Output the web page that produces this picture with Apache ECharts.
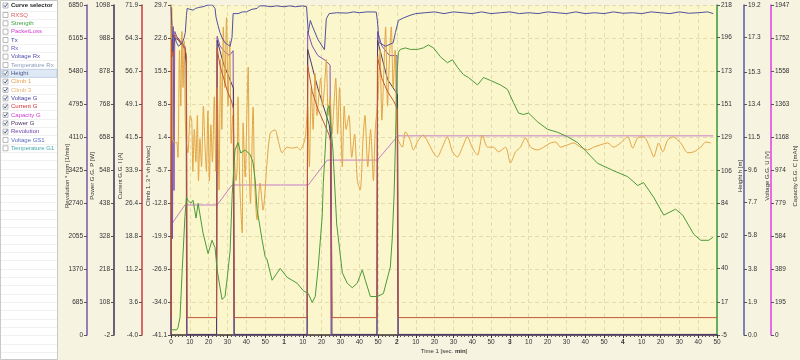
<!DOCTYPE html>
<html><head><meta charset="utf-8">
<script src="https://cdn.jsdelivr.net/npm/echarts@6/dist/echarts.min.js"></script>
<style>html,body{margin:0;padding:0;background:#f6f3e1;}#c{width:800px;height:360px;}</style>
</head><body><div id="c"></div>
<script>
// ---------- tick labels ----------
const revTicks = ['0','685','1370','2055','2740','3425','4110','4795','5480','6165','6850'];
const powTicks = ['-2','108','218','328','438','548','658','768','878','988','1098'];
const curTicks = ['-4.0','3.6','11.2','18.8','26.4','33.9','41.5','49.1','56.7','64.3','71.9'];
const climbTicks = ['-41.1','-34.0','-26.9','-19.9','-12.8','-5.7','1.4','8.5','15.5','22.6','29.7'];
const heightTicks = ['-5','17','40','62','84','106','129','151','173','196','218'];
const voltTicks = ['0.0','1.9','3.8','5.8','7.7','9.6','11.5','13.4','15.3','17.3','19.2'];
const capTicks = ['0','195','389','584','779','974','1168','1363','1558','1752','1947'];

// ---------- selector ----------
const selNames = ['RXSQ','Strength','PacketLoss','Tx','Rx','Voltage Rx','Temperature Rx','Height','Climb 1','Climb 3','Voltage G','Current G','Capacity G','Power G','Revolution','Voltage GS1','Temperature G1'];
const selColors = ['#e06060','#3fa03f','#d040d0','#404090','#5a5ac8','#5050b0','#8a98b8','#4a5a8a','#e8a050','#e8b070','#4646a6','#d03030','#d040d0','#503060','#6a40a8','#5a6ac0','#40a8a8'];
const selChecked = [0,0,0,0,0,0,0,1,1,1,1,1,1,1,1,0,0];

// ---------- series data (time in seconds) ----------
const heightT = [0,3,3.7,4.8,6,7.4,8.2,9,10.5,11.7,13.3,14.4,17,19.7,21.8,23.4,24.5,27.1,28.7,30,31.4,32.5,34,35.6,37,39.4,42,43.5,44.7,45.7,47,48.4,50,51,53.7,56.4,58,61.7,67,70.2,72.9,75,76.6,78.2,80.3,80.9,81.9,83,84,86,88,91,93.6,96.3,98.9,101.6,103.2,105.9,109.6,112.8,116.5,117.5,118.5,119.3,120,120.8,121.8,124.5,127.1,130.9,134,136.7,139.4,143.1,146.8,149.5,152.1,155.3,158,162.8,166,169.7,175,178.7,181.9,184.6,187.2,189.9,194.7,200,205.3,210.6,216,221.3,226.6,235.1,242.6,247.9,251,256.4,261.7,268,271.8,277.7,281.4,285.6,287.8];
const heightV = [-1.5,-1.5,0,7,40,75,88,86,84,86,74,84,64,50,59,54,39,19,21,35,52,90,120,125,118,120,117,112,100,80,70,59,48,46,32,37,40,34,30,25,23,17,21,41,75,98,120,147,150,120,70,37,30,27,30,39,32,21,21,23,41,60,90,130,170,186,188,189,188,188,189,191,189,183,179,181,176,171,169,164,169,167,164,161,152,145,144,145,139,134,132,129,125,118,111,106,102,96,98,88,76,80,76,63,59,59,61];

const climbT = [0,0.4,0.8,2,3,3.7,4.5,5.2,5.8,6.4,7,7.6,8.2,9,10.2,11,11.6,12.4,13.2,14,14.6,15.4,16.2,17.2,18,18.8,19.6,20.4,21.2,22,23,23.8,24.6,25.5,26.3,27,27.8,28.6,29.5,30.3,31.2,32,32.8,33.6,34.5,35.1,35.6,36.2,36.7,37.8,38.3,39.4,40.4,41,41.5,42.2,43.6,44.4,45.7,47.3,48.9,51,52.7,55.3,56.9,59,61.7,64.4,67,68.6,71.3,72.5,73.5,74.5,75.5,76.5,77.5,78.5,79.5,80.5,81.5,82.5,83.5,84.5,85.5,86.5,87.5,88.5,89.5,91,92,93,94.5,96,97.5,99,100.5,102,103,104.5,106,107.5,108.5,110,111,112,113,114,115,116,117,118,119,120.2,122.9,124.5,127.1,128.7,131.4,134,136.7,139.4,141.5,144.1,146.8,149.5,152.1,154.8,157.4,160.1,162.8,165.4,168.1,171.3,173.9,177.7,180.3,183,185.6,188.3,191,194.7,197.9,201.6,204.3,206.9,210.6,213.8,217.6,221.3,224.5,228.2,231.9,235.1,238.8,242.6,245.2,247.9,251.1,254.8,256.4,259,261.2,263.8,266.5,270.7,274.5,277.7,281.4,284,286.7];
const climbV = [0.1,29,1,0.1,0.3,-3,20,8,24,12,22,5,0.1,-2,6,5,-6,3,-4,6,-8,1,-5,8,0,-6,7,-8,4,-4,10,-6,12,-10,18,3,25,12,27,8,22,0,6,-2,-8,-5.7,10,-3,-10.6,-19.2,4.4,-7.2,8,16.4,-4.2,-12.8,7.8,-8,-16.4,-8.5,-14.3,-4.2,2.2,2.9,0.7,-2,-0.8,-1,-0.8,-1.4,1.2,8,-5,12,3,15,6,10,14,8,12,18,6,10,2,8,14,2,12,-5,8,3,6,-3,2,-8,-10,1,6,-5,3,-8,3,10,20,5,15,25,8,18,25,12,20,1.4,-0.8,2.5,0.7,-1.4,0.7,1.8,0.1,-2,-2.9,-0.8,1.4,-1.8,-2.9,-0.8,1.4,-1,-2.5,1.8,-0.8,-0.8,-1.8,-0.8,-4.2,-1.8,-0.8,1.2,-0.8,-1.4,-0.8,0.1,0.3,-0.8,-0.3,0.1,-0.8,-1.4,-0.8,-0.3,0.1,-0.8,0.1,1.4,-1,1.2,1.4,-1.4,-2.9,0.1,-1.8,0.7,1.4,0.1,-2,-1.8,-0.8,0.3,0.1];

const voltT = [0,0.5,1,2,3,4,5,6,7,7.6,8.2,8.6,10,11.7,13,14.5,17,19.7,22,23.4,23.9,25,26,27.1,28.7,30,31.4,32.4,33,35.6,38,40,43,45.7,47,50,53,56,60,63,66,70,72,72.9,74,75,78,81.5,82.5,84,88,93.6,97,100,104,109,109.6,110.6,114,118,119.2,120.8,123.5,127,130,135,140,145,150,155,160,165,170,175,180,185,190,195,200,205,210,215,220,225,230,235,240,245,250,255,260,265,270,275,280,285,288];
const voltV = [19.1,18.0,16.5,17.3,17.0,16.8,16.9,17.0,17.3,17.6,18.6,19.0,18.95,18.9,19.0,19.05,19.1,19.2,19.2,19.0,18.5,18.0,17.6,17.3,17.0,16.9,16.8,17.3,18.7,18.7,18.8,18.8,18.95,19.0,19.15,19.15,19.1,19.15,19.1,19.15,19.1,19.15,19.1,17.6,18.3,18.0,17.2,16.6,18.4,18.7,18.75,18.73,18.8,18.75,18.8,18.79,18.3,17.0,16.8,17.0,17.6,18.3,18.45,18.6,18.7,18.75,18.8,18.7,18.8,18.75,18.7,18.8,18.7,18.75,18.8,18.7,18.75,18.7,18.8,18.75,18.7,18.8,18.7,18.75,18.7,18.8,18.72,18.75,18.7,18.8,18.75,18.7,18.8,18.72,18.75,18.8,18.7];

const revT = [0,0.3,0.8,1.2,1.6,2,3,5,7.4,8,8.3,24.2,24.5,26,28,31,33,33.4,72.3,72.6,75,78,82,84.5,85,109.4,109.7,112,116,120,120.5,290];
const revV = [0,6500,2000,6400,3000,6300,6200,6100,6000,5800,0,0,6200,6000,5900,5800,5900,0,0,6300,6000,5800,5700,5600,0,0,6300,6000,5800,5800,0,0];

const powT = [0,0.3,2,4,7.4,8.2,8.5,24.2,24.5,28,33.2,33.6,72.3,72.6,78,84,85,85.5,109.4,109.7,115,120.3,120.7,290];
const powV = [0,1000,990,980,950,900,0,0,980,900,820,0,0,950,820,700,650,0,0,980,850,800,0,0];

const curT = [0,0.3,1,2,4,6,7.4,8.2,8.5,24.2,24.5,26,28,30,32,33.2,33.6,72.3,72.6,75,78,81,84,85,85.5,109.4,109.7,112,115,118,120.3,120.7,290];
const curV = [0,64,60,65,64,63,62,60,0,0,62,58,55,52,50,48,0,0,58,52,48,45,42,40,0,0,60,55,52,50,48,0,0];

const capT = [0,7.4,24.5,32.4,72.9,83,109.6,120.5,288];
const capV = [649,767,767,885,885,1032,1032,1175,1175];

// ---------- chart ----------
const FONT = 'Liberation Sans';
const pair = (T, V) => T.map((t, i) => [t, V[i]]);
function lab(ticks) { return v => { const s = ticks.find(x => Math.abs(Number(x) - v) < 1e-6); return s === undefined ? '' : s; }; }
function yAx(name, ticks, pos, offset, color, gap) {
  const vals = ticks.map(Number);
  return {
    type: 'value', name, nameLocation: 'middle', nameRotate: 90, nameGap: gap, nameMoveOverlap: false,
    position: pos, offset, min: vals[0], max: vals[vals.length - 1],
    axisLine: { show: true, onZero: false, lineStyle: { color, width: 1.5 } },
    axisTick: { show: true, length: 3, customValues: vals, lineStyle: { color: '#555', width: 1 } },
    axisLabel: { customValues: vals, formatter: lab(ticks), fontSize: 6.5, color: '#333', margin: 4, fontFamily: FONT, hideOverlap: false },
    splitLine: { show: false },
    nameTextStyle: { fontSize: 6, color: '#333', fontFamily: FONT, padding: [0, 12, 0, 0] }
  };
}
const yAxes = [
  yAx('Revolution * rpm [1/min]', revTicks, 'left', 84, '#7b54a8', 17),
  yAx('Power G.G. P [W]', powTicks, 'left', 57, '#3c3050', 19),
  yAx('Current G.G. I [A]', curTicks, 'left', 29, '#d03a3a', 19),
  yAx('Climb 1..3 * vh [m/sec]', climbTicks, 'left', 0, '#e2a43a', 20),
  yAx('Height h [m]', heightTicks, 'right', 0, '#3a9a3a', 20),
  yAx('Voltage G.G. U [V]', voltTicks, 'right', 27, '#5a5aaa', 20),
  yAx('Capacity G.G. C [mAh]', capTicks, 'right', 54, '#e040e0', 21)
];
yAxes[0].interval = 685;
yAxes[0].splitLine = { show: true, lineStyle: { color: '#e4dbb0', type: [4, 3], width: 1 } };

function ser(name, T, V, yi, color, z, smooth) {
  return { name, type: 'line', data: pair(T, V), yAxisIndex: yi, showSymbol: false, symbol: 'none', smooth: smooth || false,
    lineStyle: { color, width: 1 }, itemStyle: { color }, z: z || 2, animation: false, clip: true };
}

// selector panel graphics
const g = [];
g.push({ type: 'rect', shape: { x: 0.5, y: 0.5, width: 57, height: 359 }, style: { fill: '#ffffff', stroke: '#c8c8c8', lineWidth: 1 }, z: 1 });
for (let i = 0; i < 43; i++) {
  const y = Math.round(10.5 + 8.33 * i) + 0.5;
  g.push({ type: 'line', shape: { x1: 1, y1: y, x2: 57, y2: y }, style: { stroke: '#f1f1f1', lineWidth: 1 }, z: 2 });
}
function checkbox(yc, checked) {
  g.push({ type: 'rect', shape: { x: 3, y: yc - 2.5, width: 5, height: 5 }, style: { fill: '#fff', stroke: '#8c8c8c', lineWidth: 0.6 }, z: 5 });
  if (checked) g.push({ type: 'polyline', shape: { points: [[3.9, yc - 0.2], [5.2, yc + 1.4], [7.4, yc - 1.9]] }, style: { stroke: '#2c4a88', lineWidth: 0.9, fill: null }, z: 6 });
}
checkbox(5.5, true);
g.push({ type: 'text', style: { text: 'Curve selector', x: 11, y: 5.5, fill: '#222', font: 'bold 6px ' + FONT, verticalAlign: 'middle' }, z: 6 });
selNames.forEach((n, i) => {
  const yc = 15 + 8.33 * i;
  if (n === 'Height') g.push({ type: 'rect', shape: { x: 1, y: yc - 4, width: 56, height: 8 }, style: { fill: '#dfe9f6', stroke: '#a6bedf', lineWidth: 0.6 }, z: 3 });
  checkbox(yc, selChecked[i]);
  g.push({ type: 'text', style: { text: n, x: 11, y: yc, fill: selColors[i], font: '6px ' + FONT, verticalAlign: 'middle' }, z: 6 });
});

const chart = echarts.init(document.getElementById('c'), null, { renderer: 'canvas' });
chart.setOption({
  animation: false,
  backgroundColor: '#f6f3e1',
  graphic: g,
  grid: { left: 171, right: 83, top: 5, bottom: 25, show: true, backgroundColor: '#fcf6cd', borderWidth: 0, containLabel: false, outerBoundsMode: 'none' },
  xAxis: {
    type: 'value', min: 0, max: 290, interval: 10,
    name: 'Time 1 [sec. {b|min}]', nameLocation: 'middle', nameGap: 13, nameMoveOverlap: false,
    nameTextStyle: { fontSize: 6, color: '#333', fontFamily: FONT, rich: { b: { fontWeight: 'bold', fontSize: 6, fontFamily: FONT } } },
    axisLine: { show: true, onZero: false, lineStyle: { color: '#3a3030', width: 1.5 } },
    axisTick: { show: true, length: 3, lineStyle: { color: '#333' } },
    minorTick: { show: true, splitNumber: 5, length: 2, lineStyle: { color: '#555' } },
    axisLabel: { fontSize: 6.5, color: '#333', margin: 4, fontFamily: FONT, hideOverlap: false,
      formatter: v => (v === 0 ? '0' : (v % 60 === 0 ? '{b|' + (v / 60) + '}' : String(v % 60))),
      rich: { b: { fontWeight: 'bold', fontSize: 6.5, fontFamily: FONT } } },
    splitLine: { show: true, lineStyle: { color: '#e4dbb0', type: [4, 3], width: 1 } }
  },
  yAxis: yAxes,
  series: [
    ser('Capacity G', capT, capV, 6, '#c57ec8', 2),
    ser('Revolution', revT, revV, 0, '#8050b0', 3),
    ser('Power G', powT, powV, 1, '#4e3a66', 3),
    ser('Current G', curT, curV, 2, '#c4553a', 4),
    ser('Climb 1', climbT, climbV, 3, '#e2a444', 3, 0.25),
    ser('Height', heightT, heightV, 4, '#4a9a3a', 5),
    ser('Voltage G', voltT, voltV, 5, '#50509e', 6)
  ]
});
</script></body></html>
